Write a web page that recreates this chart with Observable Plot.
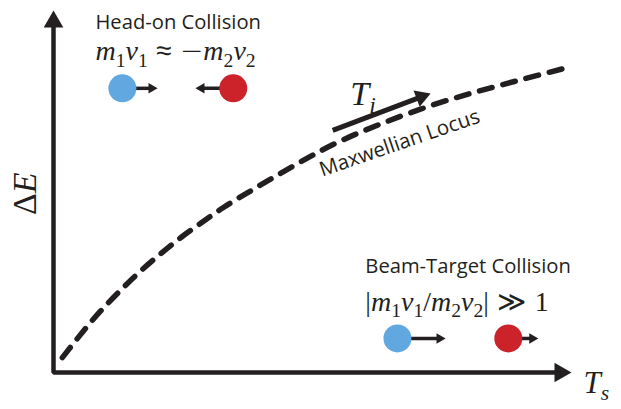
<!DOCTYPE html>
<html><head><meta charset="utf-8">
<script src="https://cdn.jsdelivr.net/npm/d3@7"></script>
<script src="https://cdn.jsdelivr.net/npm/@observablehq/plot@0.6"></script>
<style>body{margin:0;background:#fff} svg{display:block}</style>
</head><body><div id="chart"></div>
<script>
// Maxwellian locus (schematic) : T_s vs ΔE, arbitrary units 0..10
const curveTs = [0.17,0.58,0.91,1.27,1.64,2.05,2.45,2.88,3.28,3.73,4.15,4.61,5.06,5.54,6.37,7.43,8.40,9.40,9.94];
const curveDE = [0.41,1.16,1.71,2.24,2.76,3.26,3.73,4.16,4.57,4.95,5.31,5.69,6.05,6.41,6.91,7.46,7.85,8.23,8.43];

// particles (head-on pair, beam-target pair)
const particleTs   = [1.33, 3.47, 6.64, 8.78];
const particleDE   = [7.85, 7.85, 0.94, 0.94];
const particleKind = ["projectile","target","projectile","target"];
const momentumTipTs = [2.01, 2.74, 7.57, 9.36];

// T_i direction arrow
const tiArrowTs = [5.39, 7.28];
const tiArrowDE = [6.69, 7.71];

// labels
const titleText = ["Head-on Collision", "Beam-Target Collision"];
const titleTs = [0.81, 6.02];
const titleDE = [9.50, 2.76];
const formulaText = ["m_1v_1 ≈ −m_2v_2", "|m_1v_1/m_2v_2| ≫ 1"];
const formulaTs = [0.81, 6.02];
const formulaDE = [8.62, 1.71];
const locusLabel = "Maxwellian Locus";
const locusPos = [5.19, 5.41];
const xLabel = "T_s", yLabel = "ΔE", tiLabel = "T_i";

const ink = "#231f20";
const xRange = [53, 571], yRange = [372, 10];
const kx = (xRange[1]-xRange[0])/10, ky = (yRange[0]-yRange[1])/10;

function head(x1,y1,x2,y2,r){
  const dxp=(x2-x1)*kx, dyp=-(y2-y1)*ky, L=Math.hypot(dxp,dyp), ux=dxp/L, uy=dyp/L;
  const a=Math.sqrt(Math.PI*r*r/(3*Math.sqrt(3)));
  return {x:x2-2*a*ux/kx, y:y2+2*a*uy/ky, rotate:Math.atan2(ux,-uy)*180/Math.PI};
}
const rAxis=7.3, rMom=3.9, rTi=6.4;
const upHead = head(0,0,0,10,rAxis), rightHead = head(0,0,10,0,rAxis);
const axisPath = [{x:0,y:upHead.y},{x:0,y:0},{x:rightHead.x,y:0}];
const momHeads = particleTs.map((t,i)=>head(t,particleDE[i],momentumTipTs[i],particleDE[i],rMom));
const tiHead = head(tiArrowTs[0],tiArrowDE[0],tiArrowTs[1],tiArrowDE[1],rTi);
const idx4 = d3.range(4), idx2 = d3.range(2);

const sans = "'Open Sans', sans-serif", serif = "'Liberation Serif', serif";

const plot = Plot.plot({
  width:621, height:409, margin:0,
  x:{domain:[0,10], range:xRange, axis:null},
  y:{domain:[0,10], range:yRange, axis:null},
  color:{domain:["projectile","target"], range:["#62a8e0","#cc2229"]},
  style:{background:"#fff", overflow:"visible"},
  marks:[
    Plot.line(axisPath,{x:"x",y:"y",stroke:ink,strokeWidth:4.5,strokeLinejoin:"miter",strokeLinecap:"butt"}),
    Plot.dot([upHead,rightHead],{x:"x",y:"y",rotate:"rotate",symbol:"triangle",r:rAxis,fill:ink,stroke:"none"}),
    Plot.line(curveTs,{x:d=>d,y:(d,i)=>curveDE[i],curve:"basis",stroke:ink,strokeWidth:5.5,strokeDasharray:"13,11"}),
    Plot.link([0],{x1:tiArrowTs[0],y1:tiArrowDE[0],x2:tiHead.x,y2:tiHead.y,stroke:ink,strokeWidth:5}),
    Plot.dot([tiHead],{x:"x",y:"y",rotate:"rotate",symbol:"triangle",r:rTi,fill:ink,stroke:"none"}),
    Plot.link(idx4,{x1:i=>particleTs[i],y1:i=>particleDE[i],x2:i=>momHeads[i].x,y2:i=>momHeads[i].y,stroke:ink,strokeWidth:3.5}),
    Plot.dot(momHeads,{x:"x",y:"y",rotate:"rotate",symbol:"triangle",r:rMom,fill:ink,stroke:"none"}),
    Plot.dot(idx4,{x:i=>particleTs[i],y:i=>particleDE[i],r:14,fill:i=>particleKind[i],stroke:"none"}),
    Plot.text(idx2,{x:i=>titleTs[i],y:i=>titleDE[i],text:i=>titleText[i],textAnchor:"start",lineAnchor:"bottom",fontFamily:sans,fontSize:20.2,fill:ink}),
    Plot.text([locusLabel],{x:locusPos[0],y:locusPos[1],text:d=>d,textAnchor:"start",lineAnchor:"bottom",rotate:-19,fontFamily:sans,fontSize:20.5,fill:ink}),
    Plot.text(idx2,{x:i=>formulaTs[i],y:i=>formulaDE[i],text:i=>formulaText[i],textAnchor:"start",lineAnchor:"bottom",fontFamily:serif,fontSize:28,fill:ink}),
    Plot.text([tiLabel],{x:5.73,y:7.38,text:d=>d,textAnchor:"start",lineAnchor:"bottom",fontFamily:serif,fontSize:34,fill:ink}),
    Plot.text([xLabel],{x:10.23,y:-0.58,text:d=>d,textAnchor:"start",lineAnchor:"bottom",fontFamily:serif,fontSize:31,fill:ink}),
    Plot.text([yLabel],{x:-0.54,y:4.94,text:d=>d,textAnchor:"middle",lineAnchor:"middle",rotate:-90,fontFamily:serif,fontSize:34,fill:ink})
  ]
});

function renderMath(el, src, size){
  const t=d3.select(el); t.text(null).style("white-space","pre");
  let i=0, gap=0, shifted=false;
  while(i<src.length){
    let ch=src[i];
    if(ch===" "){gap+=0.3*size;i++;continue;}
    let sub=false;
    if(ch==="_"){sub=true;i++;ch=src[i];}
    const ts=t.append("tspan").text(ch);
    ts.attr("font-style",/[A-Za-z]/.test(ch)?"italic":"normal");
    if("≈−≫".includes(ch)) ts.attr("font-family","'DejaVu Sans', sans-serif").attr("font-weight","200");
    if(sub){ts.attr("font-size",size*0.7); if(!shifted){ts.attr("dy",size*0.22);} shifted=true;}
    else if(shifted){ts.attr("dy",-size*0.22); shifted=false;}
    if(gap){ts.attr("dx",gap); gap=0;}
    i++;
  }
}
const mathSet = new Set([...formulaText, tiLabel, xLabel, yLabel]);
d3.select(plot).selectAll("text").each(function(){
  const s=this.textContent;
  if(!mathSet.has(s)) return;
  let g=this.parentNode, size=NaN;
  while(g && g.getAttribute && isNaN(size)){ size=parseFloat(g.getAttribute("font-size")); g=g.parentNode; }
  renderMath(this,s,size||27);
});
document.getElementById("chart").appendChild(plot);
</script>
</body></html>
